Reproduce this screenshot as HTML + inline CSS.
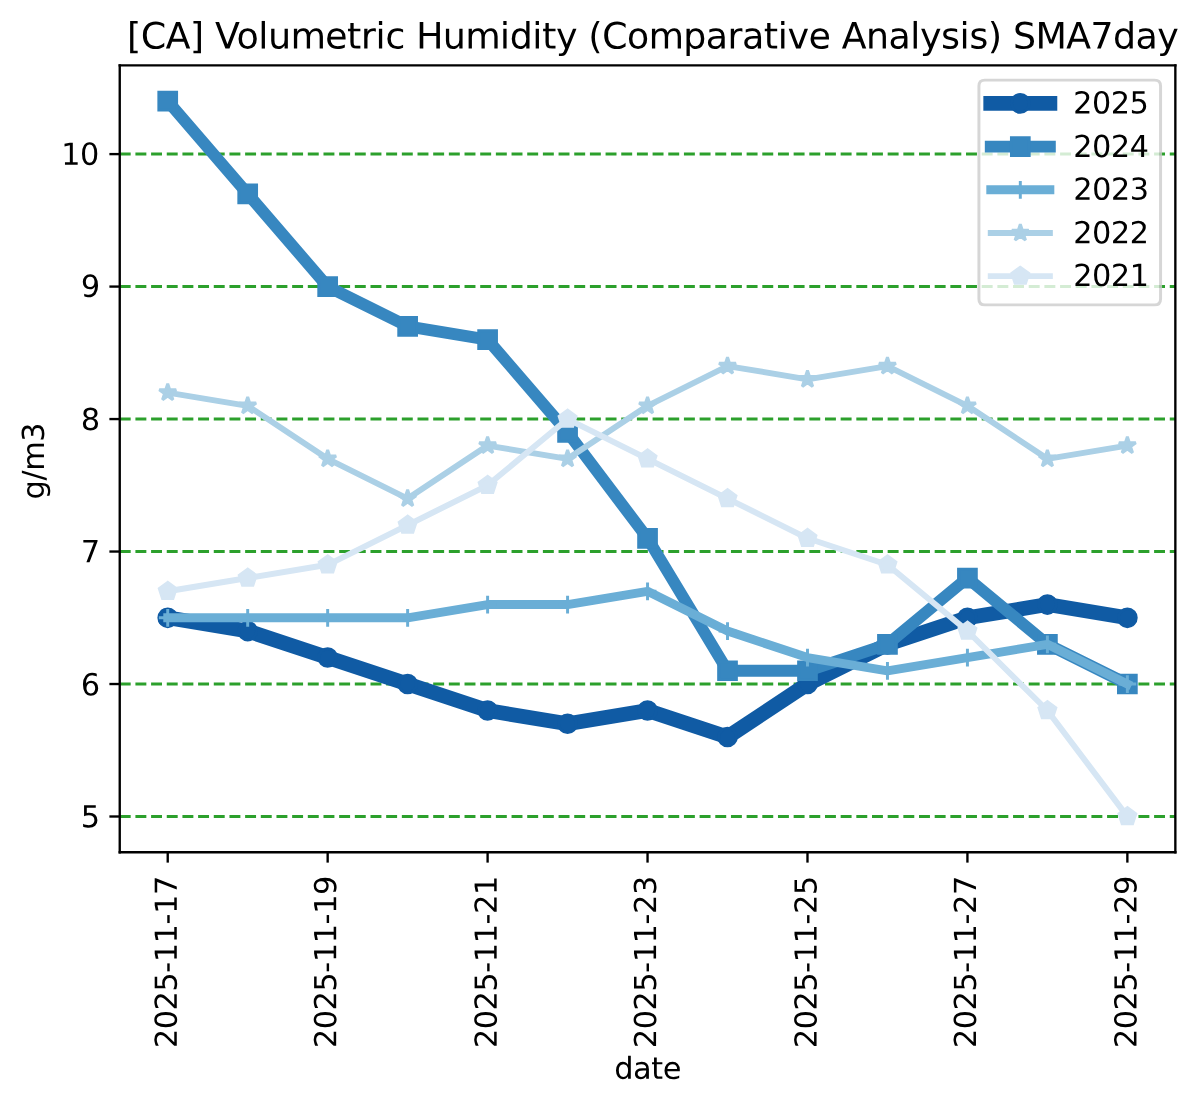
<!DOCTYPE html>
<html><head><meta charset="utf-8"><title>[CA] Volumetric Humidity (Comparative Analysis) SMA7day</title>
<style>html,body{margin:0;padding:0;background:#fff;width:1200px;height:1106px;overflow:hidden;font-family:"Liberation Sans",sans-serif}svg{display:block}</style>
</head><body>
<svg width="1200" height="1106" viewBox="0 0 405.785 374.031" version="1.1"> <defs> <style type="text/css">*{stroke-linejoin: round; stroke-linecap: butt}</style> </defs> <g id="figure_1"> <g id="patch_1"> <path d="M 0 374.031 L 405.785 374.031 L 405.785 0 L 0 0 z " style="fill: #ffffff"/> </g> <g id="axes_1"> <g id="patch_2"> <path d="M 40.477 288.224 L 397.466 288.224 L 397.466 22.097 L 40.477 22.097 z " style="fill: #ffffff"/> </g> <g id="matplotlib.axis_1"> <g id="xtick_1"> <g id="line2d_1"> <defs> <path id="m1504cfccaf" d="M 0 0 L 0 3.5 " style="stroke: #000000; stroke-width: 0.8"/> </defs> <g> <use href="#m1504cfccaf" x="56.704" y="288.224" style="stroke: #000000; stroke-width: 0.8"/> </g> </g> <g id="T8" transform="translate(0.474 1.02)"> <!-- 2025-11-17 --> <g transform="translate(59.288 353.424) rotate(-90) scale(0.1 -0.1)"> <defs> <path id="DejaVuSans-32" d="M 1228 531 L 3431 531 L 3431 0 L 469 0 L 469 531 Q 828 903 1448 1529 Q 2069 2156 2228 2338 Q 2531 2678 2651 2914 Q 2772 3150 2772 3378 Q 2772 3750 2511 3984 Q 2250 4219 1831 4219 Q 1534 4219 1204 4116 Q 875 4013 500 3803 L 500 4441 Q 881 4594 1212 4672 Q 1544 4750 1819 4750 Q 2544 4750 2975 4387 Q 3406 4025 3406 3419 Q 3406 3131 3298 2873 Q 3191 2616 2906 2266 Q 2828 2175 2409 1742 Q 1991 1309 1228 531 z " transform="scale(0.016)"/> <path id="DejaVuSans-30" d="M 2034 4250 Q 1547 4250 1301 3770 Q 1056 3291 1056 2328 Q 1056 1369 1301 889 Q 1547 409 2034 409 Q 2525 409 2770 889 Q 3016 1369 3016 2328 Q 3016 3291 2770 3770 Q 2525 4250 2034 4250 z M 2034 4750 Q 2819 4750 3233 4129 Q 3647 3509 3647 2328 Q 3647 1150 3233 529 Q 2819 -91 2034 -91 Q 1250 -91 836 529 Q 422 1150 422 2328 Q 422 3509 836 4129 Q 1250 4750 2034 4750 z " transform="scale(0.016)"/> <path id="DejaVuSans-35" d="M 691 4666 L 3169 4666 L 3169 4134 L 1269 4134 L 1269 2991 Q 1406 3038 1543 3061 Q 1681 3084 1819 3084 Q 2600 3084 3056 2656 Q 3513 2228 3513 1497 Q 3513 744 3044 326 Q 2575 -91 1722 -91 Q 1428 -91 1123 -41 Q 819 9 494 109 L 494 744 Q 775 591 1075 516 Q 1375 441 1709 441 Q 2250 441 2565 725 Q 2881 1009 2881 1497 Q 2881 1984 2565 2268 Q 2250 2553 1709 2553 Q 1456 2553 1204 2497 Q 953 2441 691 2322 L 691 4666 z " transform="scale(0.016)"/> <path id="DejaVuSans-2d" d="M 313 2009 L 1997 2009 L 1997 1497 L 313 1497 L 313 2009 z " transform="scale(0.016)"/> <path id="DejaVuSans-31" d="M 794 531 L 1825 531 L 1825 4091 L 703 3866 L 703 4441 L 1819 4666 L 2450 4666 L 2450 531 L 3481 531 L 3481 0 L 794 0 L 794 531 z " transform="scale(0.016)"/> <path id="DejaVuSans-37" d="M 525 4666 L 3525 4666 L 3525 4397 L 1831 0 L 1172 0 L 2766 4134 L 525 4134 L 525 4666 z " transform="scale(0.016)"/> </defs> <use href="#DejaVuSans-32"/> <use href="#DejaVuSans-30" transform="translate(63.623 0)"/> <use href="#DejaVuSans-32" transform="translate(127.246 0)"/> <use href="#DejaVuSans-35" transform="translate(190.869 0)"/> <use href="#DejaVuSans-2d" transform="translate(254.492 0)"/> <use href="#DejaVuSans-31" transform="translate(290.576 0)"/> <use href="#DejaVuSans-31" transform="translate(354.199 0)"/> <use href="#DejaVuSans-2d" transform="translate(417.822 0)"/> <use href="#DejaVuSans-31" transform="translate(453.906 0)"/> <use href="#DejaVuSans-37" transform="translate(517.529 0)"/> </g> </g> </g> <g id="xtick_2"> <g id="line2d_2"> <g> <use href="#m1504cfccaf" x="110.793" y="288.224" style="stroke: #000000; stroke-width: 0.8"/> </g> </g> <g id="T9" transform="translate(0.293 1.051)"> <!-- 2025-11-19 --> <g transform="translate(113.378 353.377) rotate(-90) scale(0.1 -0.1)"> <defs> <path id="DejaVuSans-39" d="M 703 97 L 703 672 Q 941 559 1184 500 Q 1428 441 1663 441 Q 2288 441 2617 861 Q 2947 1281 2994 2138 Q 2813 1869 2534 1725 Q 2256 1581 1919 1581 Q 1219 1581 811 2004 Q 403 2428 403 3163 Q 403 3881 828 4315 Q 1253 4750 1959 4750 Q 2769 4750 3195 4129 Q 3622 3509 3622 2328 Q 3622 1225 3098 567 Q 2575 -91 1691 -91 Q 1453 -91 1209 -44 Q 966 3 703 97 z M 1959 2075 Q 2384 2075 2632 2365 Q 2881 2656 2881 3163 Q 2881 3666 2632 3958 Q 2384 4250 1959 4250 Q 1534 4250 1286 3958 Q 1038 3666 1038 3163 Q 1038 2656 1286 2365 Q 1534 2075 1959 2075 z " transform="scale(0.016)"/> </defs> <use href="#DejaVuSans-32"/> <use href="#DejaVuSans-30" transform="translate(63.623 0)"/> <use href="#DejaVuSans-32" transform="translate(127.246 0)"/> <use href="#DejaVuSans-35" transform="translate(190.869 0)"/> <use href="#DejaVuSans-2d" transform="translate(254.492 0)"/> <use href="#DejaVuSans-31" transform="translate(290.576 0)"/> <use href="#DejaVuSans-31" transform="translate(354.199 0)"/> <use href="#DejaVuSans-2d" transform="translate(417.822 0)"/> <use href="#DejaVuSans-31" transform="translate(453.906 0)"/> <use href="#DejaVuSans-39" transform="translate(517.529 0)"/> </g> </g> </g> <g id="xtick_3"> <g id="line2d_3"> <g> <use href="#m1504cfccaf" x="164.882" y="288.224" style="stroke: #000000; stroke-width: 0.8"/> </g> </g> <g id="T10" transform="translate(0.48 1.062)"> <!-- 2025-11-21 --> <g transform="translate(167.467 353.377) rotate(-90) scale(0.1 -0.1)"> <use href="#DejaVuSans-32"/> <use href="#DejaVuSans-30" transform="translate(63.623 0)"/> <use href="#DejaVuSans-32" transform="translate(127.246 0)"/> <use href="#DejaVuSans-35" transform="translate(190.869 0)"/> <use href="#DejaVuSans-2d" transform="translate(254.492 0)"/> <use href="#DejaVuSans-31" transform="translate(290.576 0)"/> <use href="#DejaVuSans-31" transform="translate(354.199 0)"/> <use href="#DejaVuSans-2d" transform="translate(417.822 0)"/> <use href="#DejaVuSans-32" transform="translate(453.906 0)"/> <use href="#DejaVuSans-31" transform="translate(517.529 0)"/> </g> </g> </g> <g id="xtick_4"> <g id="line2d_4"> <g> <use href="#m1504cfccaf" x="218.972" y="288.224" style="stroke: #000000; stroke-width: 0.8"/> </g> </g> <g id="T11" transform="translate(0.299 1.079)"> <!-- 2025-11-23 --> <g transform="translate(221.556 353.377) rotate(-90) scale(0.1 -0.1)"> <defs> <path id="DejaVuSans-33" d="M 2597 2516 Q 3050 2419 3304 2112 Q 3559 1806 3559 1356 Q 3559 666 3084 287 Q 2609 -91 1734 -91 Q 1441 -91 1130 -33 Q 819 25 488 141 L 488 750 Q 750 597 1062 519 Q 1375 441 1716 441 Q 2309 441 2620 675 Q 2931 909 2931 1356 Q 2931 1769 2642 2001 Q 2353 2234 1838 2234 L 1294 2234 L 1294 2753 L 1863 2753 Q 2328 2753 2575 2939 Q 2822 3125 2822 3475 Q 2822 3834 2567 4026 Q 2313 4219 1838 4219 Q 1578 4219 1281 4162 Q 984 4106 628 3988 L 628 4550 Q 988 4650 1302 4700 Q 1616 4750 1894 4750 Q 2613 4750 3031 4423 Q 3450 4097 3450 3541 Q 3450 3153 3228 2886 Q 3006 2619 2597 2516 z " transform="scale(0.016)"/> </defs> <use href="#DejaVuSans-32"/> <use href="#DejaVuSans-30" transform="translate(63.623 0)"/> <use href="#DejaVuSans-32" transform="translate(127.246 0)"/> <use href="#DejaVuSans-35" transform="translate(190.869 0)"/> <use href="#DejaVuSans-2d" transform="translate(254.492 0)"/> <use href="#DejaVuSans-31" transform="translate(290.576 0)"/> <use href="#DejaVuSans-31" transform="translate(354.199 0)"/> <use href="#DejaVuSans-2d" transform="translate(417.822 0)"/> <use href="#DejaVuSans-32" transform="translate(453.906 0)"/> <use href="#DejaVuSans-33" transform="translate(517.529 0)"/> </g> </g> </g> <g id="xtick_5"> <g id="line2d_5"> <g> <use href="#m1504cfccaf" x="273.061" y="288.224" style="stroke: #000000; stroke-width: 0.8"/> </g> </g> <g id="T12" transform="translate(0.486 1.135)"> <!-- 2025-11-25 --> <g transform="translate(275.645 353.331) rotate(-90) scale(0.1 -0.1)"> <use href="#DejaVuSans-32"/> <use href="#DejaVuSans-30" transform="translate(63.623 0)"/> <use href="#DejaVuSans-32" transform="translate(127.246 0)"/> <use href="#DejaVuSans-35" transform="translate(190.869 0)"/> <use href="#DejaVuSans-2d" transform="translate(254.492 0)"/> <use href="#DejaVuSans-31" transform="translate(290.576 0)"/> <use href="#DejaVuSans-31" transform="translate(354.199 0)"/> <use href="#DejaVuSans-2d" transform="translate(417.822 0)"/> <use href="#DejaVuSans-32" transform="translate(453.906 0)"/> <use href="#DejaVuSans-35" transform="translate(517.529 0)"/> </g> </g> </g> <g id="xtick_6"> <g id="line2d_6"> <g> <use href="#m1504cfccaf" x="327.15" y="288.224" style="stroke: #000000; stroke-width: 0.8"/> </g> </g> <g id="T13" transform="translate(0.305 1.02)"> <!-- 2025-11-27 --> <g transform="translate(329.735 353.424) rotate(-90) scale(0.1 -0.1)"> <use href="#DejaVuSans-32"/> <use href="#DejaVuSans-30" transform="translate(63.623 0)"/> <use href="#DejaVuSans-32" transform="translate(127.246 0)"/> <use href="#DejaVuSans-35" transform="translate(190.869 0)"/> <use href="#DejaVuSans-2d" transform="translate(254.492 0)"/> <use href="#DejaVuSans-31" transform="translate(290.576 0)"/> <use href="#DejaVuSans-31" transform="translate(354.199 0)"/> <use href="#DejaVuSans-2d" transform="translate(417.822 0)"/> <use href="#DejaVuSans-32" transform="translate(453.906 0)"/> <use href="#DejaVuSans-37" transform="translate(517.529 0)"/> </g> </g> </g> <g id="xtick_7"> <g id="line2d_7"> <g> <use href="#m1504cfccaf" x="381.239" y="288.224" style="stroke: #000000; stroke-width: 0.8"/> </g> </g> <g id="T14" transform="translate(0.493 1.051)"> <!-- 2025-11-29 --> <g transform="translate(383.824 353.377) rotate(-90) scale(0.1 -0.1)"> <use href="#DejaVuSans-32"/> <use href="#DejaVuSans-30" transform="translate(63.623 0)"/> <use href="#DejaVuSans-32" transform="translate(127.246 0)"/> <use href="#DejaVuSans-35" transform="translate(190.869 0)"/> <use href="#DejaVuSans-2d" transform="translate(254.492 0)"/> <use href="#DejaVuSans-31" transform="translate(290.576 0)"/> <use href="#DejaVuSans-31" transform="translate(354.199 0)"/> <use href="#DejaVuSans-2d" transform="translate(417.822 0)"/> <use href="#DejaVuSans-32" transform="translate(453.906 0)"/> <use href="#DejaVuSans-39" transform="translate(517.529 0)"/> </g> </g> </g> <g id="T1" transform="translate(0.073 0.028)"> <!-- date --> <g transform="translate(207.664 364.808) scale(0.1 -0.1)"> <defs> <path id="DejaVuSans-64" d="M 2906 2969 L 2906 4863 L 3481 4863 L 3481 0 L 2906 0 L 2906 525 Q 2725 213 2448 61 Q 2172 -91 1784 -91 Q 1150 -91 751 415 Q 353 922 353 1747 Q 353 2572 751 3078 Q 1150 3584 1784 3584 Q 2172 3584 2448 3432 Q 2725 3281 2906 2969 z M 947 1747 Q 947 1113 1208 752 Q 1469 391 1925 391 Q 2381 391 2643 752 Q 2906 1113 2906 1747 Q 2906 2381 2643 2742 Q 2381 3103 1925 3103 Q 1469 3103 1208 2742 Q 947 2381 947 1747 z " transform="scale(0.016)"/> <path id="DejaVuSans-61" d="M 2194 1759 Q 1497 1759 1228 1600 Q 959 1441 959 1056 Q 959 750 1161 570 Q 1363 391 1709 391 Q 2188 391 2477 730 Q 2766 1069 2766 1631 L 2766 1759 L 2194 1759 z M 3341 1997 L 3341 0 L 2766 0 L 2766 531 Q 2569 213 2275 61 Q 1981 -91 1556 -91 Q 1019 -91 701 211 Q 384 513 384 1019 Q 384 1609 779 1909 Q 1175 2209 1959 2209 L 2766 2209 L 2766 2266 Q 2766 2663 2505 2880 Q 2244 3097 1772 3097 Q 1472 3097 1187 3025 Q 903 2953 641 2809 L 641 3341 Q 956 3463 1253 3523 Q 1550 3584 1831 3584 Q 2591 3584 2966 3190 Q 3341 2797 3341 1997 z " transform="scale(0.016)"/> <path id="DejaVuSans-74" d="M 1172 4494 L 1172 3500 L 2356 3500 L 2356 3053 L 1172 3053 L 1172 1153 Q 1172 725 1289 603 Q 1406 481 1766 481 L 2356 481 L 2356 0 L 1766 0 Q 1100 0 847 248 Q 594 497 594 1153 L 594 3053 L 172 3053 L 172 3500 L 594 3500 L 594 4494 L 1172 4494 z " transform="scale(0.016)"/> <path id="DejaVuSans-65" d="M 3597 1894 L 3597 1613 L 953 1613 Q 991 1019 1311 708 Q 1631 397 2203 397 Q 2534 397 2845 478 Q 3156 559 3463 722 L 3463 178 Q 3153 47 2828 -22 Q 2503 -91 2169 -91 Q 1331 -91 842 396 Q 353 884 353 1716 Q 353 2575 817 3079 Q 1281 3584 2069 3584 Q 2775 3584 3186 3129 Q 3597 2675 3597 1894 z M 3022 2063 Q 3016 2534 2758 2815 Q 2500 3097 2075 3097 Q 1594 3097 1305 2825 Q 1016 2553 972 2059 L 3022 2063 z " transform="scale(0.016)"/> </defs> <use href="#DejaVuSans-64"/> <use href="#DejaVuSans-61" transform="translate(63.477 0)"/> <use href="#DejaVuSans-74" transform="translate(124.756 0)"/> <use href="#DejaVuSans-65" transform="translate(163.965 0)"/> </g> </g> </g> <g id="matplotlib.axis_2"> <g id="ytick_1"> <g id="line2d_8"> <path d="M 40.477 276.127 L 397.466 276.127 " clip-path="url(#p56738bfd0b)" style="fill: none; stroke-dasharray: 3.7,1.6; stroke-dashoffset: 0; stroke: #2ca02c"/> </g> <g id="line2d_9"> <defs> <path id="m5d545ce8f8" d="M 0 0 L -3.5 0 " style="stroke: #000000; stroke-width: 0.8"/> </defs> <g> <use href="#m5d545ce8f8" x="40.477" y="276.127" style="stroke: #000000; stroke-width: 0.8"/> </g> </g> <g id="T16" transform="translate(0.149 -0.062)"> <!-- 5 --> <g transform="translate(27.154 279.819) scale(0.1 -0.1)"> <use href="#DejaVuSans-35"/> </g> </g> </g> <g id="ytick_2"> <g id="line2d_10"> <path d="M 40.477 231.324 L 397.466 231.324 " clip-path="url(#p56738bfd0b)" style="fill: none; stroke-dasharray: 3.7,1.6; stroke-dashoffset: 0; stroke: #2ca02c"/> </g> <g id="line2d_11"> <g> <use href="#m5d545ce8f8" x="40.477" y="231.324" style="stroke: #000000; stroke-width: 0.8"/> </g> </g> <g id="T17" transform="translate(0.212 0.131)"> <!-- 6 --> <g transform="translate(27.108 235.017) scale(0.1 -0.1)"> <defs> <path id="DejaVuSans-36" d="M 2113 2584 Q 1688 2584 1439 2293 Q 1191 2003 1191 1497 Q 1191 994 1439 701 Q 1688 409 2113 409 Q 2538 409 2786 701 Q 3034 994 3034 1497 Q 3034 2003 2786 2293 Q 2538 2584 2113 2584 z M 3366 4563 L 3366 3988 Q 3128 4100 2886 4159 Q 2644 4219 2406 4219 Q 1781 4219 1451 3797 Q 1122 3375 1075 2522 Q 1259 2794 1537 2939 Q 1816 3084 2150 3084 Q 2853 3084 3261 2657 Q 3669 2231 3669 1497 Q 3669 778 3244 343 Q 2819 -91 2113 -91 Q 1303 -91 875 529 Q 447 1150 447 2328 Q 447 3434 972 4092 Q 1497 4750 2381 4750 Q 2619 4750 2861 4703 Q 3103 4656 3366 4563 z " transform="scale(0.016)"/> </defs> <use href="#DejaVuSans-36"/> </g> </g> </g> <g id="ytick_3"> <g id="line2d_12"> <path d="M 40.477 186.522 L 397.466 186.522 " clip-path="url(#p56738bfd0b)" style="fill: none; stroke-dasharray: 3.7,1.6; stroke-dashoffset: 0; stroke: #2ca02c"/> </g> <g id="line2d_13"> <g> <use href="#m5d545ce8f8" x="40.477" y="186.522" style="stroke: #000000; stroke-width: 0.8"/> </g> </g> <g id="T18" transform="translate(0.266 -0.107)"> <!-- 7 --> <g transform="translate(27.062 190.214) scale(0.1 -0.1)"> <use href="#DejaVuSans-37"/> </g> </g> </g> <g id="ytick_4"> <g id="line2d_14"> <path d="M 40.477 141.719 L 397.466 141.719 " clip-path="url(#p56738bfd0b)" style="fill: none; stroke-dasharray: 3.7,1.6; stroke-dashoffset: 0; stroke: #2ca02c"/> </g> <g id="line2d_15"> <g> <use href="#m5d545ce8f8" x="40.477" y="141.719" style="stroke: #000000; stroke-width: 0.8"/> </g> </g> <g id="T19" transform="translate(0.213 0.013)"> <!-- 8 --> <g transform="translate(27.108 145.412) scale(0.1 -0.1)"> <defs> <path id="DejaVuSans-38" d="M 2034 2216 Q 1584 2216 1326 1975 Q 1069 1734 1069 1313 Q 1069 891 1326 650 Q 1584 409 2034 409 Q 2484 409 2743 651 Q 3003 894 3003 1313 Q 3003 1734 2745 1975 Q 2488 2216 2034 2216 z M 1403 2484 Q 997 2584 770 2862 Q 544 3141 544 3541 Q 544 4100 942 4425 Q 1341 4750 2034 4750 Q 2731 4750 3128 4425 Q 3525 4100 3525 3541 Q 3525 3141 3298 2862 Q 3072 2584 2669 2484 Q 3125 2378 3379 2068 Q 3634 1759 3634 1313 Q 3634 634 3220 271 Q 2806 -91 2034 -91 Q 1263 -91 848 271 Q 434 634 434 1313 Q 434 1759 690 2068 Q 947 2378 1403 2484 z M 1172 3481 Q 1172 3119 1398 2916 Q 1625 2713 2034 2713 Q 2441 2713 2670 2916 Q 2900 3119 2900 3481 Q 2900 3844 2670 4047 Q 2441 4250 2034 4250 Q 1625 4250 1398 4047 Q 1172 3844 1172 3481 z " transform="scale(0.016)"/> </defs> <use href="#DejaVuSans-38"/> </g> </g> </g> <g id="ytick_5"> <g id="line2d_16"> <path d="M 40.477 96.917 L 397.466 96.917 " clip-path="url(#p56738bfd0b)" style="fill: none; stroke-dasharray: 3.7,1.6; stroke-dashoffset: 0; stroke: #2ca02c"/> </g> <g id="line2d_17"> <g> <use href="#m5d545ce8f8" x="40.477" y="96.917" style="stroke: #000000; stroke-width: 0.8"/> </g> </g> <g id="T20" transform="translate(0.231 -0.231)"> <!-- 9 --> <g transform="translate(27.108 100.609) scale(0.1 -0.1)"> <use href="#DejaVuSans-39"/> </g> </g> </g> <g id="ytick_6"> <g id="line2d_18"> <path d="M 40.477 52.115 L 397.466 52.115 " clip-path="url(#p56738bfd0b)" style="fill: none; stroke-dasharray: 3.7,1.6; stroke-dashoffset: 0; stroke: #2ca02c"/> </g> <g id="line2d_19"> <g> <use href="#m5d545ce8f8" x="40.477" y="52.115" style="stroke: #000000; stroke-width: 0.8"/> </g> </g> <g id="T21" transform="translate(-0.103 -0.105)"> <!-- 10 --> <g transform="translate(20.785 55.807) scale(0.1 -0.1)"> <use href="#DejaVuSans-31"/> <use href="#DejaVuSans-30" transform="translate(63.623 0)"/> </g> </g> </g> <g id="T2" transform="translate(0.283 0.77)"> <!-- g/m3 --> <g transform="translate(14.569 168.106) rotate(-90) scale(0.1 -0.1)"> <defs> <path id="DejaVuSans-67" d="M 2906 1791 Q 2906 2416 2648 2759 Q 2391 3103 1925 3103 Q 1463 3103 1205 2759 Q 947 2416 947 1791 Q 947 1169 1205 825 Q 1463 481 1925 481 Q 2391 481 2648 825 Q 2906 1169 2906 1791 z M 3481 434 Q 3481 -459 3084 -895 Q 2688 -1331 1869 -1331 Q 1566 -1331 1297 -1286 Q 1028 -1241 775 -1147 L 775 -588 Q 1028 -725 1275 -790 Q 1522 -856 1778 -856 Q 2344 -856 2625 -561 Q 2906 -266 2906 331 L 2906 616 Q 2728 306 2450 153 Q 2172 0 1784 0 Q 1141 0 747 490 Q 353 981 353 1791 Q 353 2603 747 3093 Q 1141 3584 1784 3584 Q 2172 3584 2450 3431 Q 2728 3278 2906 2969 L 2906 3500 L 3481 3500 L 3481 434 z " transform="scale(0.016)"/> <path id="DejaVuSans-2f" d="M 1625 4666 L 2156 4666 L 531 -594 L 0 -594 L 1625 4666 z " transform="scale(0.016)"/> <path id="DejaVuSans-6d" d="M 3328 2828 Q 3544 3216 3844 3400 Q 4144 3584 4550 3584 Q 5097 3584 5394 3201 Q 5691 2819 5691 2113 L 5691 0 L 5113 0 L 5113 2094 Q 5113 2597 4934 2840 Q 4756 3084 4391 3084 Q 3944 3084 3684 2787 Q 3425 2491 3425 1978 L 3425 0 L 2847 0 L 2847 2094 Q 2847 2600 2669 2842 Q 2491 3084 2119 3084 Q 1678 3084 1418 2786 Q 1159 2488 1159 1978 L 1159 0 L 581 0 L 581 3500 L 1159 3500 L 1159 2956 Q 1356 3278 1631 3431 Q 1906 3584 2284 3584 Q 2666 3584 2933 3390 Q 3200 3197 3328 2828 z " transform="scale(0.016)"/> </defs> <use href="#DejaVuSans-67"/> <use href="#DejaVuSans-2f" transform="translate(63.477 0)"/> <use href="#DejaVuSans-6d" transform="translate(97.168 0)"/> <use href="#DejaVuSans-33" transform="translate(194.58 0)"/> </g> </g> </g> <g id="line2d_20"> <path d="M 56.704 208.923 L 83.748 213.403 L 110.793 222.364 L 137.838 231.324 L 164.882 240.285 L 191.927 244.765 L 218.972 240.285 L 246.016 249.245 L 273.061 231.324 L 300.105 217.884 L 327.15 208.923 L 354.195 204.443 L 381.239 208.923 " clip-path="url(#p56738bfd0b)" style="fill: none; stroke: #105ba4; stroke-width: 5; stroke-linecap: square"/> <defs> <path id="m1fc0e1e985" d="M 0 3 C 0.796 3 1.559 2.684 2.121 2.121 C 2.684 1.559 3 0.796 3 0 C 3 -0.796 2.684 -1.559 2.121 -2.121 C 1.559 -2.684 0.796 -3 0 -3 C -0.796 -3 -1.559 -2.684 -2.121 -2.121 C -2.684 -1.559 -3 -0.796 -3 0 C -3 0.796 -2.684 1.559 -2.121 2.121 C -1.559 2.684 -0.796 3 0 3 z " style="stroke: #105ba4"/> </defs> <g clip-path="url(#p56738bfd0b)"> <use href="#m1fc0e1e985" x="56.704" y="208.923" style="fill: #105ba4; stroke: #105ba4"/> <use href="#m1fc0e1e985" x="83.748" y="213.403" style="fill: #105ba4; stroke: #105ba4"/> <use href="#m1fc0e1e985" x="110.793" y="222.364" style="fill: #105ba4; stroke: #105ba4"/> <use href="#m1fc0e1e985" x="137.838" y="231.324" style="fill: #105ba4; stroke: #105ba4"/> <use href="#m1fc0e1e985" x="164.882" y="240.285" style="fill: #105ba4; stroke: #105ba4"/> <use href="#m1fc0e1e985" x="191.927" y="244.765" style="fill: #105ba4; stroke: #105ba4"/> <use href="#m1fc0e1e985" x="218.972" y="240.285" style="fill: #105ba4; stroke: #105ba4"/> <use href="#m1fc0e1e985" x="246.016" y="249.245" style="fill: #105ba4; stroke: #105ba4"/> <use href="#m1fc0e1e985" x="273.061" y="231.324" style="fill: #105ba4; stroke: #105ba4"/> <use href="#m1fc0e1e985" x="300.105" y="217.884" style="fill: #105ba4; stroke: #105ba4"/> <use href="#m1fc0e1e985" x="327.15" y="208.923" style="fill: #105ba4; stroke: #105ba4"/> <use href="#m1fc0e1e985" x="354.195" y="204.443" style="fill: #105ba4; stroke: #105ba4"/> <use href="#m1fc0e1e985" x="381.239" y="208.923" style="fill: #105ba4; stroke: #105ba4"/> </g> </g> <g id="line2d_21"> <path d="M 56.704 34.194 L 83.748 65.555 L 110.793 96.917 L 137.838 110.358 L 164.882 114.838 L 191.927 146.2 L 218.972 182.042 L 246.016 226.844 L 273.061 226.844 L 300.105 217.884 L 327.15 195.482 L 354.195 217.884 L 381.239 231.324 " clip-path="url(#p56738bfd0b)" style="fill: none; stroke: #3787c0; stroke-width: 4; stroke-linecap: square"/> <defs> <path id="md6b0fd5a17" d="M -3 3 L 3 3 L 3 -3 L -3 -3 z " style="stroke: #3787c0; stroke-linejoin: miter"/> </defs> <g clip-path="url(#p56738bfd0b)"> <use href="#md6b0fd5a17" x="56.704" y="34.194" style="fill: #3787c0; stroke: #3787c0; stroke-linejoin: miter"/> <use href="#md6b0fd5a17" x="83.748" y="65.555" style="fill: #3787c0; stroke: #3787c0; stroke-linejoin: miter"/> <use href="#md6b0fd5a17" x="110.793" y="96.917" style="fill: #3787c0; stroke: #3787c0; stroke-linejoin: miter"/> <use href="#md6b0fd5a17" x="137.838" y="110.358" style="fill: #3787c0; stroke: #3787c0; stroke-linejoin: miter"/> <use href="#md6b0fd5a17" x="164.882" y="114.838" style="fill: #3787c0; stroke: #3787c0; stroke-linejoin: miter"/> <use href="#md6b0fd5a17" x="191.927" y="146.2" style="fill: #3787c0; stroke: #3787c0; stroke-linejoin: miter"/> <use href="#md6b0fd5a17" x="218.972" y="182.042" style="fill: #3787c0; stroke: #3787c0; stroke-linejoin: miter"/> <use href="#md6b0fd5a17" x="246.016" y="226.844" style="fill: #3787c0; stroke: #3787c0; stroke-linejoin: miter"/> <use href="#md6b0fd5a17" x="273.061" y="226.844" style="fill: #3787c0; stroke: #3787c0; stroke-linejoin: miter"/> <use href="#md6b0fd5a17" x="300.105" y="217.884" style="fill: #3787c0; stroke: #3787c0; stroke-linejoin: miter"/> <use href="#md6b0fd5a17" x="327.15" y="195.482" style="fill: #3787c0; stroke: #3787c0; stroke-linejoin: miter"/> <use href="#md6b0fd5a17" x="354.195" y="217.884" style="fill: #3787c0; stroke: #3787c0; stroke-linejoin: miter"/> <use href="#md6b0fd5a17" x="381.239" y="231.324" style="fill: #3787c0; stroke: #3787c0; stroke-linejoin: miter"/> </g> </g> <g id="line2d_22"> <path d="M 56.704 208.923 L 83.748 208.923 L 110.793 208.923 L 137.838 208.923 L 164.882 204.443 L 191.927 204.443 L 218.972 199.963 L 246.016 213.403 L 273.061 222.364 L 300.105 226.844 L 327.15 222.364 L 354.195 217.884 L 381.239 231.324 " clip-path="url(#p56738bfd0b)" style="fill: none; stroke: #6aaed6; stroke-width: 3; stroke-linecap: square"/> <defs> <path id="m864c725c35" d="M -3 0 L 3 0 M 0 3 L 0 -3 " style="stroke: #6aaed6"/> </defs> <g clip-path="url(#p56738bfd0b)"> <use href="#m864c725c35" x="56.704" y="208.923" style="fill: #6aaed6; stroke: #6aaed6"/> <use href="#m864c725c35" x="83.748" y="208.923" style="fill: #6aaed6; stroke: #6aaed6"/> <use href="#m864c725c35" x="110.793" y="208.923" style="fill: #6aaed6; stroke: #6aaed6"/> <use href="#m864c725c35" x="137.838" y="208.923" style="fill: #6aaed6; stroke: #6aaed6"/> <use href="#m864c725c35" x="164.882" y="204.443" style="fill: #6aaed6; stroke: #6aaed6"/> <use href="#m864c725c35" x="191.927" y="204.443" style="fill: #6aaed6; stroke: #6aaed6"/> <use href="#m864c725c35" x="218.972" y="199.963" style="fill: #6aaed6; stroke: #6aaed6"/> <use href="#m864c725c35" x="246.016" y="213.403" style="fill: #6aaed6; stroke: #6aaed6"/> <use href="#m864c725c35" x="273.061" y="222.364" style="fill: #6aaed6; stroke: #6aaed6"/> <use href="#m864c725c35" x="300.105" y="226.844" style="fill: #6aaed6; stroke: #6aaed6"/> <use href="#m864c725c35" x="327.15" y="222.364" style="fill: #6aaed6; stroke: #6aaed6"/> <use href="#m864c725c35" x="354.195" y="217.884" style="fill: #6aaed6; stroke: #6aaed6"/> <use href="#m864c725c35" x="381.239" y="231.324" style="fill: #6aaed6; stroke: #6aaed6"/> </g> </g> <g id="line2d_23"> <path d="M 56.704 132.759 L 83.748 137.239 L 110.793 155.16 L 137.838 168.601 L 164.882 150.68 L 191.927 155.16 L 218.972 137.239 L 246.016 123.798 L 273.061 128.279 L 300.105 123.798 L 327.15 137.239 L 354.195 155.16 L 381.239 150.68 " clip-path="url(#p56738bfd0b)" style="fill: none; stroke: #abd0e6; stroke-width: 2; stroke-linecap: square"/> <defs> <path id="m133d42292d" d="M 0 -3 L -0.674 -0.927 L -2.853 -0.927 L -1.09 0.354 L -1.763 2.427 L -0 1.146 L 1.763 2.427 L 1.09 0.354 L 2.853 -0.927 L 0.674 -0.927 z " style="stroke: #abd0e6; stroke-linejoin: bevel"/> </defs> <g clip-path="url(#p56738bfd0b)"> <use href="#m133d42292d" x="56.704" y="132.759" style="fill: #abd0e6; stroke: #abd0e6; stroke-linejoin: bevel"/> <use href="#m133d42292d" x="83.748" y="137.239" style="fill: #abd0e6; stroke: #abd0e6; stroke-linejoin: bevel"/> <use href="#m133d42292d" x="110.793" y="155.16" style="fill: #abd0e6; stroke: #abd0e6; stroke-linejoin: bevel"/> <use href="#m133d42292d" x="137.838" y="168.601" style="fill: #abd0e6; stroke: #abd0e6; stroke-linejoin: bevel"/> <use href="#m133d42292d" x="164.882" y="150.68" style="fill: #abd0e6; stroke: #abd0e6; stroke-linejoin: bevel"/> <use href="#m133d42292d" x="191.927" y="155.16" style="fill: #abd0e6; stroke: #abd0e6; stroke-linejoin: bevel"/> <use href="#m133d42292d" x="218.972" y="137.239" style="fill: #abd0e6; stroke: #abd0e6; stroke-linejoin: bevel"/> <use href="#m133d42292d" x="246.016" y="123.798" style="fill: #abd0e6; stroke: #abd0e6; stroke-linejoin: bevel"/> <use href="#m133d42292d" x="273.061" y="128.279" style="fill: #abd0e6; stroke: #abd0e6; stroke-linejoin: bevel"/> <use href="#m133d42292d" x="300.105" y="123.798" style="fill: #abd0e6; stroke: #abd0e6; stroke-linejoin: bevel"/> <use href="#m133d42292d" x="327.15" y="137.239" style="fill: #abd0e6; stroke: #abd0e6; stroke-linejoin: bevel"/> <use href="#m133d42292d" x="354.195" y="155.16" style="fill: #abd0e6; stroke: #abd0e6; stroke-linejoin: bevel"/> <use href="#m133d42292d" x="381.239" y="150.68" style="fill: #abd0e6; stroke: #abd0e6; stroke-linejoin: bevel"/> </g> </g> <g id="line2d_24"> <path d="M 56.704 199.963 L 83.748 195.482 L 110.793 191.002 L 137.838 177.561 L 164.882 164.121 L 191.927 141.719 L 218.972 155.16 L 246.016 168.601 L 273.061 182.042 L 300.105 191.002 L 327.15 213.403 L 354.195 240.285 L 381.239 276.127 " clip-path="url(#p56738bfd0b)" style="fill: none; stroke: #d6e6f4; stroke-width: 2; stroke-linecap: square"/> <defs> <path id="md4b081e47d" d="M 0 -3 L -2.853 -0.927 L -1.763 2.427 L 1.763 2.427 L 2.853 -0.927 z " style="stroke: #d6e6f4; stroke-linejoin: miter"/> </defs> <g clip-path="url(#p56738bfd0b)"> <use href="#md4b081e47d" x="56.704" y="199.963" style="fill: #d6e6f4; stroke: #d6e6f4; stroke-linejoin: miter"/> <use href="#md4b081e47d" x="83.748" y="195.482" style="fill: #d6e6f4; stroke: #d6e6f4; stroke-linejoin: miter"/> <use href="#md4b081e47d" x="110.793" y="191.002" style="fill: #d6e6f4; stroke: #d6e6f4; stroke-linejoin: miter"/> <use href="#md4b081e47d" x="137.838" y="177.561" style="fill: #d6e6f4; stroke: #d6e6f4; stroke-linejoin: miter"/> <use href="#md4b081e47d" x="164.882" y="164.121" style="fill: #d6e6f4; stroke: #d6e6f4; stroke-linejoin: miter"/> <use href="#md4b081e47d" x="191.927" y="141.719" style="fill: #d6e6f4; stroke: #d6e6f4; stroke-linejoin: miter"/> <use href="#md4b081e47d" x="218.972" y="155.16" style="fill: #d6e6f4; stroke: #d6e6f4; stroke-linejoin: miter"/> <use href="#md4b081e47d" x="246.016" y="168.601" style="fill: #d6e6f4; stroke: #d6e6f4; stroke-linejoin: miter"/> <use href="#md4b081e47d" x="273.061" y="182.042" style="fill: #d6e6f4; stroke: #d6e6f4; stroke-linejoin: miter"/> <use href="#md4b081e47d" x="300.105" y="191.002" style="fill: #d6e6f4; stroke: #d6e6f4; stroke-linejoin: miter"/> <use href="#md4b081e47d" x="327.15" y="213.403" style="fill: #d6e6f4; stroke: #d6e6f4; stroke-linejoin: miter"/> <use href="#md4b081e47d" x="354.195" y="240.285" style="fill: #d6e6f4; stroke: #d6e6f4; stroke-linejoin: miter"/> <use href="#md4b081e47d" x="381.239" y="276.127" style="fill: #d6e6f4; stroke: #d6e6f4; stroke-linejoin: miter"/> </g> </g> <g id="patch_3"> <path d="M 40.477 288.224 L 40.477 22.097 " style="fill: none; stroke: #000000; stroke-width: 0.8; stroke-linejoin: miter; stroke-linecap: square"/> </g> <g id="patch_4"> <path d="M 397.466 288.224 L 397.466 22.097 " style="fill: none; stroke: #000000; stroke-width: 0.8; stroke-linejoin: miter; stroke-linecap: square"/> </g> <g id="patch_5"> <path d="M 40.477 288.224 L 397.466 288.224 " style="fill: none; stroke: #000000; stroke-width: 0.8; stroke-linejoin: miter; stroke-linecap: square"/> </g> <g id="patch_6"> <path d="M 40.477 22.097 L 397.466 22.097 " style="fill: none; stroke: #000000; stroke-width: 0.8; stroke-linejoin: miter; stroke-linecap: square"/> </g> <g id="T0" transform="translate(-0.152 0.325)"> <!-- [CA] Volumetric Humidity (Comparative Analysis) SMA7day --> <g transform="translate(39.272 16.097) scale(0.12 -0.12)"> <defs> <path id="DejaVuSans-20" transform="scale(0.016)"/> <path id="DejaVuSans-5b" d="M 550 4863 L 1875 4863 L 1875 4416 L 1125 4416 L 1125 -397 L 1875 -397 L 1875 -844 L 550 -844 L 550 4863 z " transform="scale(0.016)"/> <path id="DejaVuSans-43" d="M 4122 4306 L 4122 3641 Q 3803 3938 3442 4084 Q 3081 4231 2675 4231 Q 1875 4231 1450 3742 Q 1025 3253 1025 2328 Q 1025 1406 1450 917 Q 1875 428 2675 428 Q 3081 428 3442 575 Q 3803 722 4122 1019 L 4122 359 Q 3791 134 3420 21 Q 3050 -91 2638 -91 Q 1578 -91 968 557 Q 359 1206 359 2328 Q 359 3453 968 4101 Q 1578 4750 2638 4750 Q 3056 4750 3426 4639 Q 3797 4528 4122 4306 z " transform="scale(0.016)"/> <path id="DejaVuSans-41" d="M 2188 4044 L 1331 1722 L 3047 1722 L 2188 4044 z M 1831 4666 L 2547 4666 L 4325 0 L 3669 0 L 3244 1197 L 1141 1197 L 716 0 L 50 0 L 1831 4666 z " transform="scale(0.016)"/> <path id="DejaVuSans-5d" d="M 1947 4863 L 1947 -844 L 622 -844 L 622 -397 L 1369 -397 L 1369 4416 L 622 4416 L 622 4863 L 1947 4863 z " transform="scale(0.016)"/> <path id="DejaVuSans-56" d="M 1831 0 L 50 4666 L 709 4666 L 2188 738 L 3669 4666 L 4325 4666 L 2547 0 L 1831 0 z " transform="scale(0.016)"/> <path id="DejaVuSans-6f" d="M 1959 3097 Q 1497 3097 1228 2736 Q 959 2375 959 1747 Q 959 1119 1226 758 Q 1494 397 1959 397 Q 2419 397 2687 759 Q 2956 1122 2956 1747 Q 2956 2369 2687 2733 Q 2419 3097 1959 3097 z M 1959 3584 Q 2709 3584 3137 3096 Q 3566 2609 3566 1747 Q 3566 888 3137 398 Q 2709 -91 1959 -91 Q 1206 -91 779 398 Q 353 888 353 1747 Q 353 2609 779 3096 Q 1206 3584 1959 3584 z " transform="scale(0.016)"/> <path id="DejaVuSans-6c" d="M 603 4863 L 1178 4863 L 1178 0 L 603 0 L 603 4863 z " transform="scale(0.016)"/> <path id="DejaVuSans-75" d="M 544 1381 L 544 3500 L 1119 3500 L 1119 1403 Q 1119 906 1312 657 Q 1506 409 1894 409 Q 2359 409 2629 706 Q 2900 1003 2900 1516 L 2900 3500 L 3475 3500 L 3475 0 L 2900 0 L 2900 538 Q 2691 219 2414 64 Q 2138 -91 1772 -91 Q 1169 -91 856 284 Q 544 659 544 1381 z M 1991 3584 L 1991 3584 z " transform="scale(0.016)"/> <path id="DejaVuSans-72" d="M 2631 2963 Q 2534 3019 2420 3045 Q 2306 3072 2169 3072 Q 1681 3072 1420 2755 Q 1159 2438 1159 1844 L 1159 0 L 581 0 L 581 3500 L 1159 3500 L 1159 2956 Q 1341 3275 1631 3429 Q 1922 3584 2338 3584 Q 2397 3584 2469 3576 Q 2541 3569 2628 3553 L 2631 2963 z " transform="scale(0.016)"/> <path id="DejaVuSans-69" d="M 603 3500 L 1178 3500 L 1178 0 L 603 0 L 603 3500 z M 603 4863 L 1178 4863 L 1178 4134 L 603 4134 L 603 4863 z " transform="scale(0.016)"/> <path id="DejaVuSans-63" d="M 3122 3366 L 3122 2828 Q 2878 2963 2633 3030 Q 2388 3097 2138 3097 Q 1578 3097 1268 2742 Q 959 2388 959 1747 Q 959 1106 1268 751 Q 1578 397 2138 397 Q 2388 397 2633 464 Q 2878 531 3122 666 L 3122 134 Q 2881 22 2623 -34 Q 2366 -91 2075 -91 Q 1284 -91 818 406 Q 353 903 353 1747 Q 353 2603 823 3093 Q 1294 3584 2113 3584 Q 2378 3584 2631 3529 Q 2884 3475 3122 3366 z " transform="scale(0.016)"/> <path id="DejaVuSans-48" d="M 628 4666 L 1259 4666 L 1259 2753 L 3553 2753 L 3553 4666 L 4184 4666 L 4184 0 L 3553 0 L 3553 2222 L 1259 2222 L 1259 0 L 628 0 L 628 4666 z " transform="scale(0.016)"/> <path id="DejaVuSans-79" d="M 2059 -325 Q 1816 -950 1584 -1140 Q 1353 -1331 966 -1331 L 506 -1331 L 506 -850 L 844 -850 Q 1081 -850 1212 -737 Q 1344 -625 1503 -206 L 1606 56 L 191 3500 L 800 3500 L 1894 763 L 2988 3500 L 3597 3500 L 2059 -325 z " transform="scale(0.016)"/> <path id="DejaVuSans-28" d="M 1984 4856 Q 1566 4138 1362 3434 Q 1159 2731 1159 2009 Q 1159 1288 1364 580 Q 1569 -128 1984 -844 L 1484 -844 Q 1016 -109 783 600 Q 550 1309 550 2009 Q 550 2706 781 3412 Q 1013 4119 1484 4856 L 1984 4856 z " transform="scale(0.016)"/> <path id="DejaVuSans-70" d="M 1159 525 L 1159 -1331 L 581 -1331 L 581 3500 L 1159 3500 L 1159 2969 Q 1341 3281 1617 3432 Q 1894 3584 2278 3584 Q 2916 3584 3314 3078 Q 3713 2572 3713 1747 Q 3713 922 3314 415 Q 2916 -91 2278 -91 Q 1894 -91 1617 61 Q 1341 213 1159 525 z M 3116 1747 Q 3116 2381 2855 2742 Q 2594 3103 2138 3103 Q 1681 3103 1420 2742 Q 1159 2381 1159 1747 Q 1159 1113 1420 752 Q 1681 391 2138 391 Q 2594 391 2855 752 Q 3116 1113 3116 1747 z " transform="scale(0.016)"/> <path id="DejaVuSans-76" d="M 191 3500 L 800 3500 L 1894 563 L 2988 3500 L 3597 3500 L 2284 0 L 1503 0 L 191 3500 z " transform="scale(0.016)"/> <path id="DejaVuSans-6e" d="M 3513 2113 L 3513 0 L 2938 0 L 2938 2094 Q 2938 2591 2744 2837 Q 2550 3084 2163 3084 Q 1697 3084 1428 2787 Q 1159 2491 1159 1978 L 1159 0 L 581 0 L 581 3500 L 1159 3500 L 1159 2956 Q 1366 3272 1645 3428 Q 1925 3584 2291 3584 Q 2894 3584 3203 3211 Q 3513 2838 3513 2113 z " transform="scale(0.016)"/> <path id="DejaVuSans-73" d="M 2834 3397 L 2834 2853 Q 2591 2978 2328 3040 Q 2066 3103 1784 3103 Q 1356 3103 1142 2972 Q 928 2841 928 2578 Q 928 2378 1081 2264 Q 1234 2150 1697 2047 L 1894 2003 Q 2506 1872 2764 1633 Q 3022 1394 3022 966 Q 3022 478 2636 193 Q 2250 -91 1575 -91 Q 1294 -91 989 -36 Q 684 19 347 128 L 347 722 Q 666 556 975 473 Q 1284 391 1588 391 Q 1994 391 2212 530 Q 2431 669 2431 922 Q 2431 1156 2273 1281 Q 2116 1406 1581 1522 L 1381 1569 Q 847 1681 609 1914 Q 372 2147 372 2553 Q 372 3047 722 3315 Q 1072 3584 1716 3584 Q 2034 3584 2315 3537 Q 2597 3491 2834 3397 z " transform="scale(0.016)"/> <path id="DejaVuSans-29" d="M 513 4856 L 1013 4856 Q 1481 4119 1714 3412 Q 1947 2706 1947 2009 Q 1947 1309 1714 600 Q 1481 -109 1013 -844 L 513 -844 Q 928 -128 1133 580 Q 1338 1288 1338 2009 Q 1338 2731 1133 3434 Q 928 4138 513 4856 z " transform="scale(0.016)"/> <path id="DejaVuSans-53" d="M 3425 4513 L 3425 3897 Q 3066 4069 2747 4153 Q 2428 4238 2131 4238 Q 1616 4238 1336 4038 Q 1056 3838 1056 3469 Q 1056 3159 1242 3001 Q 1428 2844 1947 2747 L 2328 2669 Q 3034 2534 3370 2195 Q 3706 1856 3706 1288 Q 3706 609 3251 259 Q 2797 -91 1919 -91 Q 1588 -91 1214 -16 Q 841 59 441 206 L 441 856 Q 825 641 1194 531 Q 1563 422 1919 422 Q 2459 422 2753 634 Q 3047 847 3047 1241 Q 3047 1584 2836 1778 Q 2625 1972 2144 2069 L 1759 2144 Q 1053 2284 737 2584 Q 422 2884 422 3419 Q 422 4038 858 4394 Q 1294 4750 2059 4750 Q 2388 4750 2728 4690 Q 3069 4631 3425 4513 z " transform="scale(0.016)"/> <path id="DejaVuSans-4d" d="M 628 4666 L 1569 4666 L 2759 1491 L 3956 4666 L 4897 4666 L 4897 0 L 4281 0 L 4281 4097 L 3078 897 L 2444 897 L 1241 4097 L 1241 0 L 628 0 L 628 4666 z " transform="scale(0.016)"/> </defs> <use href="#DejaVuSans-20"/> <use href="#DejaVuSans-5b" transform="translate(31.787 0)"/> <use href="#DejaVuSans-43" transform="translate(70.801 0)"/> <use href="#DejaVuSans-41" transform="translate(140.625 0)"/> <use href="#DejaVuSans-5d" transform="translate(209.033 0)"/> <use href="#DejaVuSans-20" transform="translate(248.047 0)"/> <use href="#DejaVuSans-56" transform="translate(279.834 0)"/> <use href="#DejaVuSans-6f" transform="translate(340.492 0)"/> <use href="#DejaVuSans-6c" transform="translate(401.674 0)"/> <use href="#DejaVuSans-75" transform="translate(429.457 0)"/> <use href="#DejaVuSans-6d" transform="translate(492.836 0)"/> <use href="#DejaVuSans-65" transform="translate(590.248 0)"/> <use href="#DejaVuSans-74" transform="translate(651.771 0)"/> <use href="#DejaVuSans-72" transform="translate(690.98 0)"/> <use href="#DejaVuSans-69" transform="translate(732.094 0)"/> <use href="#DejaVuSans-63" transform="translate(759.877 0)"/> <use href="#DejaVuSans-20" transform="translate(814.857 0)"/> <use href="#DejaVuSans-48" transform="translate(846.645 0)"/> <use href="#DejaVuSans-75" transform="translate(921.84 0)"/> <use href="#DejaVuSans-6d" transform="translate(985.219 0)"/> <use href="#DejaVuSans-69" transform="translate(1082.631 0)"/> <use href="#DejaVuSans-64" transform="translate(1110.414 0)"/> <use href="#DejaVuSans-69" transform="translate(1173.891 0)"/> <use href="#DejaVuSans-74" transform="translate(1201.674 0)"/> <use href="#DejaVuSans-79" transform="translate(1240.883 0)"/> <use href="#DejaVuSans-20" transform="translate(1300.062 0)"/> <use href="#DejaVuSans-28" transform="translate(1331.85 0)"/> <use href="#DejaVuSans-43" transform="translate(1370.863 0)"/> <use href="#DejaVuSans-6f" transform="translate(1440.688 0)"/> <use href="#DejaVuSans-6d" transform="translate(1501.869 0)"/> <use href="#DejaVuSans-70" transform="translate(1599.281 0)"/> <use href="#DejaVuSans-61" transform="translate(1662.758 0)"/> <use href="#DejaVuSans-72" transform="translate(1724.037 0)"/> <use href="#DejaVuSans-61" transform="translate(1765.15 0)"/> <use href="#DejaVuSans-74" transform="translate(1826.43 0)"/> <use href="#DejaVuSans-69" transform="translate(1865.639 0)"/> <use href="#DejaVuSans-76" transform="translate(1893.422 0)"/> <use href="#DejaVuSans-65" transform="translate(1952.602 0)"/> <use href="#DejaVuSans-20" transform="translate(2014.125 0)"/> <use href="#DejaVuSans-41" transform="translate(2045.912 0)"/> <use href="#DejaVuSans-6e" transform="translate(2114.32 0)"/> <use href="#DejaVuSans-61" transform="translate(2177.699 0)"/> <use href="#DejaVuSans-6c" transform="translate(2238.979 0)"/> <use href="#DejaVuSans-79" transform="translate(2266.762 0)"/> <use href="#DejaVuSans-73" transform="translate(2325.941 0)"/> <use href="#DejaVuSans-69" transform="translate(2378.041 0)"/> <use href="#DejaVuSans-73" transform="translate(2405.824 0)"/> <use href="#DejaVuSans-29" transform="translate(2457.924 0)"/> <use href="#DejaVuSans-20" transform="translate(2496.938 0)"/> <use href="#DejaVuSans-53" transform="translate(2528.725 0)"/> <use href="#DejaVuSans-4d" transform="translate(2592.201 0)"/> <use href="#DejaVuSans-41" transform="translate(2678.48 0)"/> <use href="#DejaVuSans-37" transform="translate(2746.889 0)"/> <use href="#DejaVuSans-64" transform="translate(2810.512 0)"/> <use href="#DejaVuSans-61" transform="translate(2873.988 0)"/> <use href="#DejaVuSans-79" transform="translate(2935.268 0)"/> </g> </g> <g id="legend_1"> <g id="patch_7"> <path d="M 333.035 103.097 L 390.466 103.097 Q 392.466 103.097 392.466 101.097 L 392.466 29.097 Q 392.466 27.097 390.466 27.097 L 333.035 27.097 Q 331.035 27.097 331.035 29.097 L 331.035 101.097 Q 331.035 103.097 333.035 103.097 z " style="fill: #ffffff; opacity: 0.8; stroke: #cccccc; stroke-linejoin: miter"/> </g> <g id="line2d_25"> <path d="M 335.035 34.982 L 345.035 34.982 L 355.035 34.982 " style="fill: none; stroke: #105ba4; stroke-width: 5; stroke-linecap: square"/> <g> <use href="#m1fc0e1e985" x="345.035" y="34.982" style="fill: #105ba4; stroke: #105ba4"/> </g> </g> <g id="T3" transform="translate(-0.132 -0.134)"> <!-- 2025 --> <g transform="translate(363.035 38.482) scale(0.1 -0.1)"> <use href="#DejaVuSans-32"/> <use href="#DejaVuSans-30" transform="translate(63.623 0)"/> <use href="#DejaVuSans-32" transform="translate(127.246 0)"/> <use href="#DejaVuSans-35" transform="translate(190.869 0)"/> </g> </g> <g id="line2d_26"> <path d="M 335.035 49.582 L 345.035 49.582 L 355.035 49.582 " style="fill: none; stroke: #3787c0; stroke-width: 4; stroke-linecap: square"/> <g> <use href="#md6b0fd5a17" x="345.035" y="49.582" style="fill: #3787c0; stroke: #3787c0; stroke-linejoin: miter"/> </g> </g> <g id="T4" transform="translate(-0.098 0.035)"> <!-- 2024 --> <g transform="translate(363.035 53.082) scale(0.1 -0.1)"> <defs> <path id="DejaVuSans-34" d="M 2419 4116 L 825 1625 L 2419 1625 L 2419 4116 z M 2253 4666 L 3047 4666 L 3047 1625 L 3713 1625 L 3713 1100 L 3047 1100 L 3047 0 L 2419 0 L 2419 1100 L 313 1100 L 313 1709 L 2253 4666 z " transform="scale(0.016)"/> </defs> <use href="#DejaVuSans-32"/> <use href="#DejaVuSans-30" transform="translate(63.623 0)"/> <use href="#DejaVuSans-32" transform="translate(127.246 0)"/> <use href="#DejaVuSans-34" transform="translate(190.869 0)"/> </g> </g> <g id="line2d_27"> <path d="M 335.035 64.182 L 345.035 64.182 L 355.035 64.182 " style="fill: none; stroke: #6aaed6; stroke-width: 3; stroke-linecap: square"/> <g> <use href="#m864c725c35" x="345.035" y="64.182" style="fill: #6aaed6; stroke: #6aaed6"/> </g> </g> <g id="T5" transform="translate(-0.072 -0.163)"> <!-- 2023 --> <g transform="translate(363.035 67.682) scale(0.1 -0.1)"> <use href="#DejaVuSans-32"/> <use href="#DejaVuSans-30" transform="translate(63.623 0)"/> <use href="#DejaVuSans-32" transform="translate(127.246 0)"/> <use href="#DejaVuSans-33" transform="translate(190.869 0)"/> </g> </g> <g id="line2d_28"> <path d="M 335.035 78.782 L 345.035 78.782 L 355.035 78.782 " style="fill: none; stroke: #abd0e6; stroke-width: 2; stroke-linecap: square"/> <g> <use href="#m133d42292d" x="345.035" y="78.782" style="fill: #abd0e6; stroke: #abd0e6; stroke-linejoin: bevel"/> </g> </g> <g id="T6" transform="translate(-0.105 0.006)"> <!-- 2022 --> <g transform="translate(363.035 82.282) scale(0.1 -0.1)"> <use href="#DejaVuSans-32"/> <use href="#DejaVuSans-30" transform="translate(63.623 0)"/> <use href="#DejaVuSans-32" transform="translate(127.246 0)"/> <use href="#DejaVuSans-32" transform="translate(190.869 0)"/> </g> </g> <g id="line2d_29"> <path d="M 335.035 93.382 L 345.035 93.382 L 355.035 93.382 " style="fill: none; stroke: #d6e6f4; stroke-width: 2; stroke-linecap: square"/> <g> <use href="#md4b081e47d" x="345.035" y="93.382" style="fill: #d6e6f4; stroke: #d6e6f4; stroke-linejoin: miter"/> </g> </g> <g id="T7" transform="translate(-0.101 -0.196)"> <!-- 2021 --> <g transform="translate(363.035 96.882) scale(0.1 -0.1)"> <use href="#DejaVuSans-32"/> <use href="#DejaVuSans-30" transform="translate(63.623 0)"/> <use href="#DejaVuSans-32" transform="translate(127.246 0)"/> <use href="#DejaVuSans-31" transform="translate(190.869 0)"/> </g> </g> </g> </g> </g> <defs> <clipPath id="p56738bfd0b"> <rect x="40.477" y="22.097" width="356.989" height="266.127"/> </clipPath> </defs> </svg> 
</body></html>
